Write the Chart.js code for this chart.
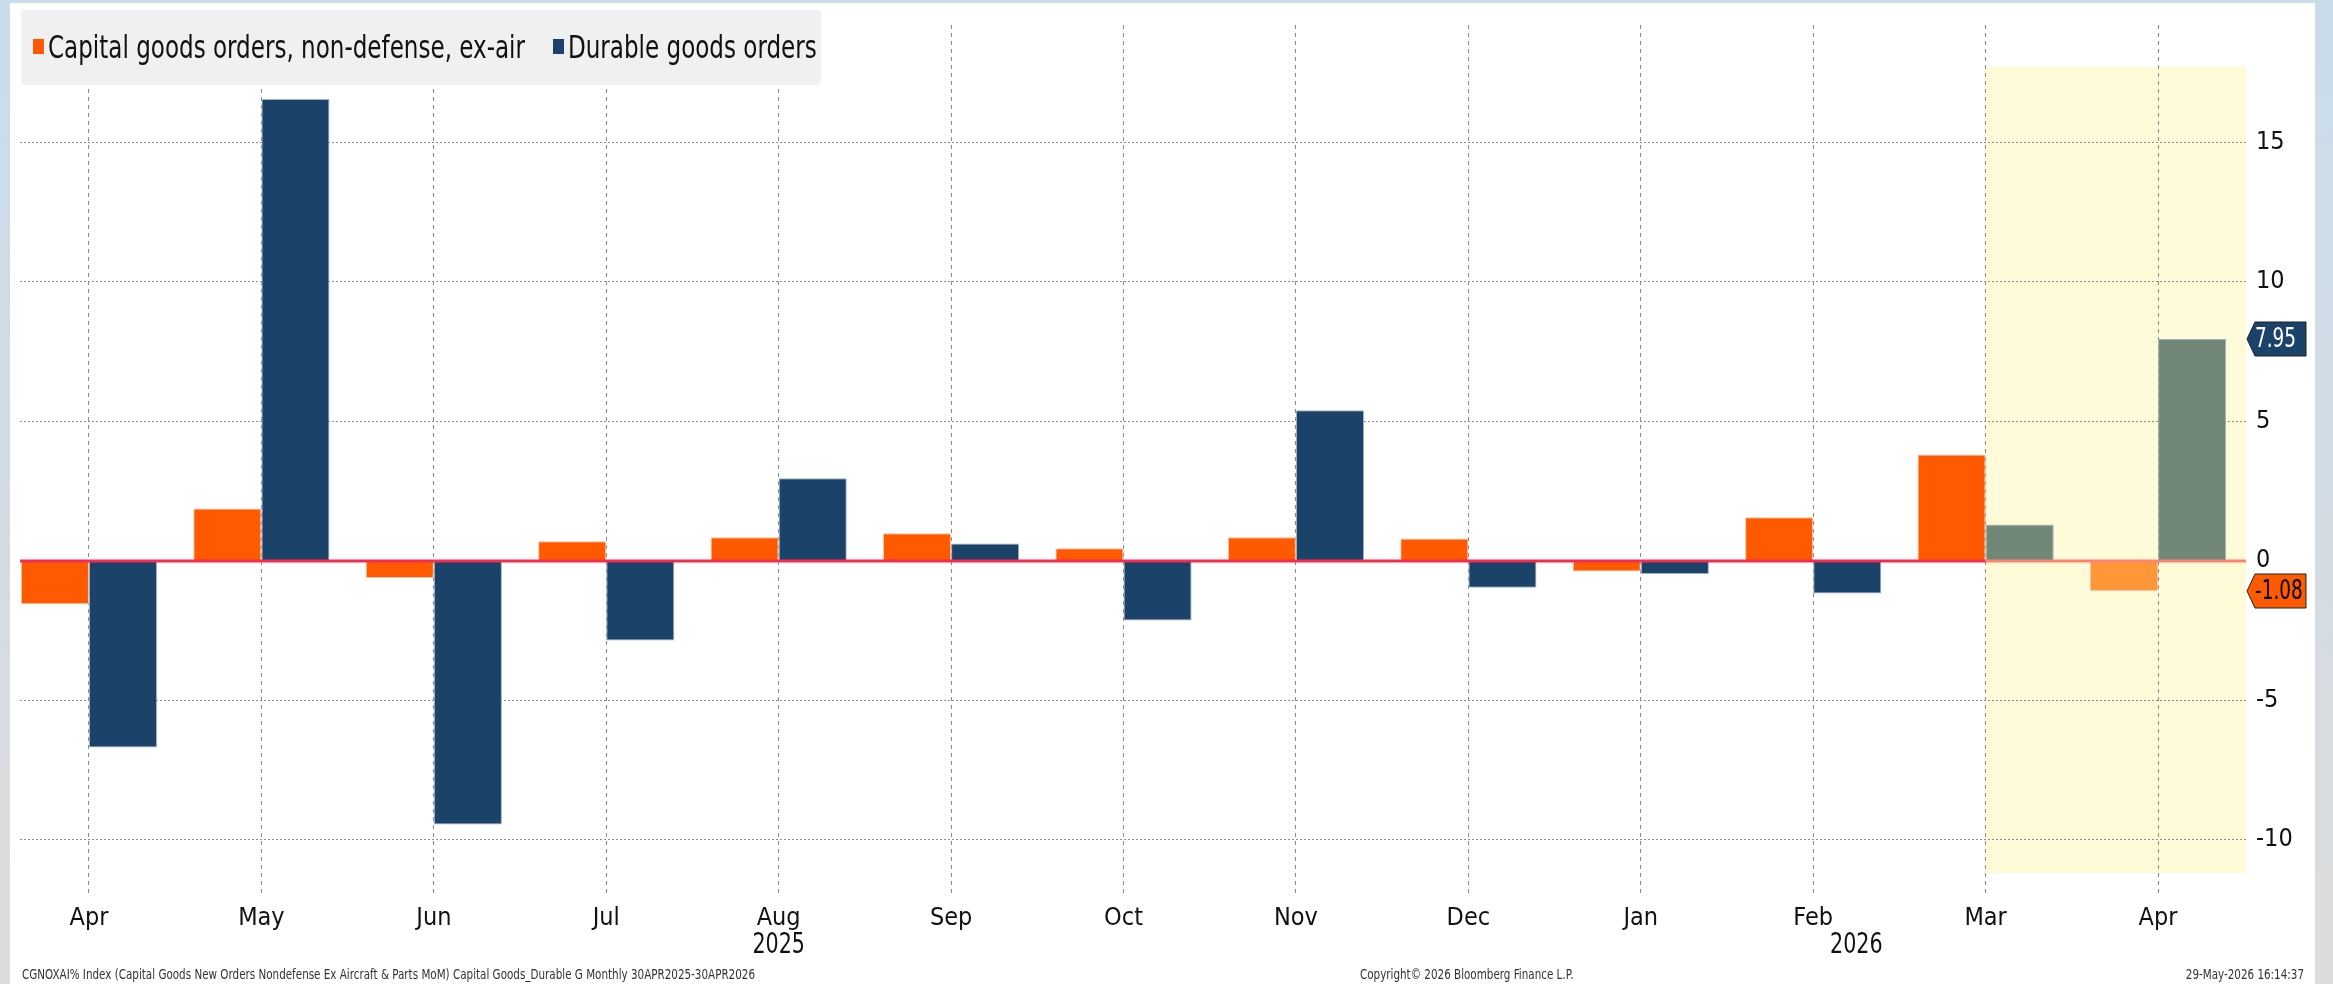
<!DOCTYPE html>
<html>
<head>
<meta charset="utf-8">
<script src="https://cdn.jsdelivr.net/npm/chart.js@4.4.1/dist/chart.umd.min.js"></script>
<style>
  html, body { margin: 0; padding: 0; background: #fff; }
  canvas { display: block; }
</style>
</head>
<body>
<canvas id="orders-chart" width="2333" height="984"></canvas>
<script>
// month labels, Apr 2025 .. Apr 2026
const months = ["Apr", "May", "Jun", "Jul", "Aug", "Sep", "Oct", "Nov", "Dec", "Jan", "Feb", "Mar", "Apr"];
const yearLabels = ["2025", "2026"];
const yearCenters = [4, 10.25];

// MoM % change
const capGoods = [-1.55, 1.88, -0.61, 0.70, 0.85, 0.99, 0.45, 0.85, 0.80, -0.38, 1.56, 3.81, -1.08];
const durable = [-6.69, 16.55, -9.45, -2.85, 2.96, 0.62, -2.14, 5.40, -0.96, -0.47, -1.17, 1.30, 7.95];

const seriesNames = ["Capital goods orders, non-defense, ex-air", "Durable goods orders"];
const yTicks = [-10, -5, 0, 5, 10, 15];

const footerLeft = "CGNOXAI% Index (Capital Goods New Orders Nondefense Ex Aircraft & Parts MoM) Capital Goods_Durable G Monthly 30APR2025-30APR2026";
const footerMid = "Copyright\u00a9 2026 Bloomberg Finance L.P.";
const footerRight = "29-May-2026 16:14:37";

// shaded window starts at the Mar 2026 month line
const shadeFrom = 11;
const shadeTop = 17.7;
const shadeBottom = -11.2;

const NARROW = '"Liberation Sans Narrow", "DejaVu Sans Condensed", "Arial Narrow", sans-serif';

const ORANGE = "#ff5a00";
const ORANGE_SHADED = "#ff9738";
const NAVY = "#1b4369";
const NAVY_SHADED = "#718777";

// bar sits inside the yellow window?
function inShade(i, ds) {
  return i + (ds === 0 ? -0.2 : 0.2) > shadeFrom;
}

// bloomberg's font is tall and narrow, so squeeze text horizontally
function squeezed(ctx, text, x, y, sx, align) {
  const w = ctx.measureText(text).width * sx;
  let left = x;
  if (align === "center") left = x - w / 2;
  if (align === "right") left = x - w;
  ctx.save();
  ctx.translate(left, y);
  ctx.scale(sx, 1);
  ctx.textAlign = "left";
  ctx.fillText(text, 0, 0);
  ctx.restore();
  return w;
}

// frame, highlight window, zero line, tags, legend, footer
const bloombergLook = {
  id: "bloombergLook",
  beforeDraw(chart) {
    const ctx = chart.ctx;
    const { width, height } = chart;
    const x = chart.scales.x, y = chart.scales.y;
    ctx.save();
    const g = ctx.createLinearGradient(0, 0, 0, height);
    g.addColorStop(0, "#c9dcec");
    g.addColorStop(1, "#dcdcdc");
    ctx.fillStyle = g;
    ctx.fillRect(0, 0, width, height);
    ctx.fillStyle = "#ffffff";
    ctx.fillRect(10, 3, 2305, height - 3);
    // yellow window
    const x0 = x.getPixelForValue(shadeFrom);
    const y0 = y.getPixelForValue(shadeTop);
    const y1 = y.getPixelForValue(shadeBottom);
    ctx.fillStyle = "#fffbd9";
    ctx.fillRect(x0, y0, chart.chartArea.right - x0, y1 - y0);
    ctx.restore();
  },
  afterDatasetsDraw(chart) {
    const ctx = chart.ctx;
    const x = chart.scales.x, y = chart.scales.y;
    const area = chart.chartArea;
    const y0 = Math.round(y.getPixelForValue(0));
    const xs = x.getPixelForValue(shadeFrom);
    ctx.save();
    // zero line
    ctx.lineWidth = 3;
    ctx.strokeStyle = "#f72a50";
    ctx.beginPath();
    ctx.moveTo(area.left, y0);
    ctx.lineTo(xs, y0);
    ctx.stroke();
    ctx.strokeStyle = "#ff8470";
    ctx.beginPath();
    ctx.moveTo(xs, y0);
    ctx.lineTo(area.right, y0);
    ctx.stroke();

    // last value tags
    const tags = [
      { v: durable[durable.length - 1], bg: NAVY, fg: "#ffffff" },
      { v: capGoods[capGoods.length - 1], bg: ORANGE, fg: "#000000" },
    ];
    ctx.textBaseline = "middle";
    tags.forEach((t) => {
      const cy = y.getPixelForValue(t.v);
      const left = area.right + 1, right = 2306, h = 34;
      ctx.beginPath();
      ctx.moveTo(left, cy);
      ctx.lineTo(left + 8, cy - h / 2);
      ctx.lineTo(right, cy - h / 2);
      ctx.lineTo(right, cy + h / 2);
      ctx.lineTo(left + 8, cy + h / 2);
      ctx.closePath();
      ctx.fillStyle = t.bg;
      ctx.fill();
      ctx.lineWidth = 1;
      ctx.strokeStyle = "#222";
      ctx.stroke();
      ctx.fillStyle = t.fg;
      ctx.font = "27px " + NARROW;
      squeezed(ctx, t.v.toFixed(2), left + 8, cy + 1, 0.76, "left");
    });

    // legend box
    ctx.fillStyle = "#f0f0f0";
    ctx.beginPath();
    ctx.roundRect(21, 10, 800, 75, 4);
    ctx.fill();
    ctx.font = "32px " + NARROW;
    const sx = 477 / ctx.measureText(seriesNames[0]).width;
    let lx = 33;
    chart.data.datasets.forEach((ds, i) => {
      ctx.fillStyle = i === 0 ? ORANGE : NAVY;
      ctx.fillRect(lx, 39, 11, 15);
      ctx.fillStyle = "#111";
      const w = squeezed(ctx, ds.label, lx + 15, 50, sx, "left");
      lx += 15 + w + 28;
    });

    // year row under month labels
    ctx.font = "28px " + NARROW;
    ctx.fillStyle = "#111";
    yearLabels.forEach((lab, i) => {
      squeezed(ctx, lab, x.getPixelForValue(yearCenters[i]), 946, 0.82, "center");
    });

    // footer
    ctx.font = "14px " + NARROW;
    ctx.fillStyle = "#333";
    const fx = 733 / ctx.measureText(footerLeft).width;
    squeezed(ctx, footerLeft, 22, 975, fx, "left");
    squeezed(ctx, footerMid, 1360, 975, fx, "left");
    squeezed(ctx, footerRight, 2304, 975, fx, "right");
    ctx.restore();
  },
};

new Chart("orders-chart", {
  type: "bar",
  data: {
    datasets: [
      {
        label: seriesNames[0],
        data: capGoods.map((v, i) => ({ x: i, y: v })),
        backgroundColor: (c) => (inShade(c.dataIndex, 0) ? ORANGE_SHADED : ORANGE),
        borderColor: "rgba(255,190,160,0.9)",
        borderWidth: 1,
      },
      {
        label: seriesNames[1],
        data: durable.map((v, i) => ({ x: i, y: v })),
        backgroundColor: (c) => (inShade(c.dataIndex, 1) ? NAVY_SHADED : NAVY),
        borderColor: "rgba(150,170,190,0.9)",
        borderWidth: 1,
      },
    ],
  },
  options: {
    responsive: false,
    animation: false,
    devicePixelRatio: 1,
    categoryPercentage: 0.79,
    barPercentage: 1.0,
    layout: { padding: { left: 20, top: 10, right: 0, bottom: 0 } },
    plugins: {
      legend: { display: false },
      tooltip: { enabled: false },
    },
    scales: {
      x: {
        type: "linear",
        offset: false,
        min: -0.4,
        max: 12.51,
        afterBuildTicks: (s) => {
          s.ticks = months.map((m, i) => ({ value: i }));
        },
        afterFit: (s) => {
          s.height = 91;
        },
        ticks: {
          stepSize: 1,
          padding: 10,
          color: "#111",
          font: { family: NARROW, size: 25 },
          callback: (v) => months[v],
        },
        grid: { offset: false, color: "#8a8a8a", lineWidth: 1, drawTicks: false },
        border: { display: false, dash: [4, 4] },
      },
      y: {
        position: "right",
        min: -11.9,
        max: 19.2,
        afterBuildTicks: (s) => {
          s.ticks = yTicks.map((v) => ({ value: v }));
        },
        afterFit: (s) => {
          s.width = 87;
        },
        ticks: {
          padding: 10,
          color: "#111",
          font: { family: NARROW, size: 25 },
        },
        grid: {
          color: (c) => (c.tick && c.tick.value === 0 ? "rgba(0,0,0,0)" : "#8f8f8f"),
          lineWidth: 1,
          drawTicks: false,
        },
        border: { display: false, dash: [2, 2] },
      },
    },
  },
  plugins: [bloombergLook],
});
</script>
</body>
</html>
